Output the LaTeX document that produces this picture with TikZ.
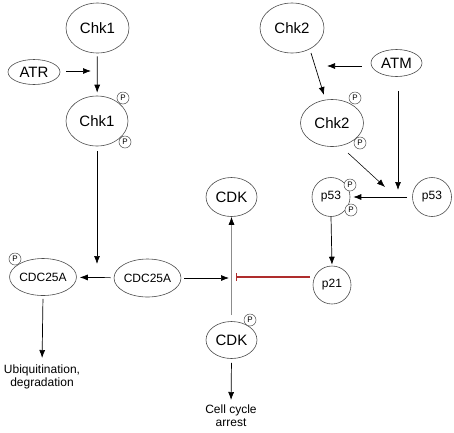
\documentclass[tikz,border=0pt]{standalone}
\usepackage{fontspec}
\setmainfont{Liberation Sans}
\usetikzlibrary{shapes.geometric,arrows.meta,calc}
\begin{document}
\begin{tikzpicture}[x=1pt,y=-1pt,
  prot/.style={draw=black!70, ellipse, inner sep=0pt, line width=0.6pt},
  bigprot/.style={prot, font=\fontsize{15}{15}\selectfont},
  smallprot/.style={prot, font=\fontsize{12}{12}\selectfont},
  phos/.style={draw=black!70, circle, fill=white, inner sep=0pt, minimum size=12pt, line width=0.5pt, font=\fontsize{8}{8}\selectfont},
  outcome/.style={align=center, inner sep=0pt, font=\fontsize{12}{13}\selectfont},
  act/.style={line width=0.7pt, -{Latex[length=8pt,width=6pt]}},
  grayact/.style={act, draw=black!45, -{Latex[length=8pt,width=6pt,color=black]}},
  inhib/.style={line width=1.3pt, draw={rgb,255:red,175;green,45;blue,45}, -{Bar[width=8pt]}}
]
\useasboundingbox (0,0) rectangle (454,432);
% nodes
\node[bigprot, minimum width=63pt, minimum height=50pt] (chk1) at (97.5,28) {Chk1};
\node[bigprot, minimum width=52pt, minimum height=25pt] (atr) at (34,72) {ATR};
\node[bigprot, minimum width=62pt, minimum height=50pt] (chk1p) at (97,121) {Chk1};
\node[phos] (chk1pa) at (123,98) {P};
\node[phos] (chk1pb) at (125,142) {P};
\node[bigprot, minimum width=64pt, minimum height=50pt] (chk2) at (292,28) {Chk2};
\node[bigprot, minimum width=51pt, minimum height=27pt] (atm) at (396.5,63) {ATM};
\node[bigprot, minimum width=63pt, minimum height=47pt] (chk2p) at (332,123) {Chk2};
\node[phos] (chk2pa) at (355,98) {P};
\node[phos] (chk2pb) at (360,143) {P};
\node[smallprot, minimum width=38pt, minimum height=39pt] (p53p) at (331,197) {p53};
\node[phos] (p53pa) at (350,185) {P};
\node[phos] (p53pb) at (351,210) {P};
\node[smallprot, minimum width=39pt, minimum height=39pt] (p53) at (432,197) {p53};
\node[smallprot, minimum width=38pt, minimum height=38pt] (p21) at (332,285) {p21};
\node[bigprot, minimum width=51pt, minimum height=39pt] (cdk) at (231.5,197) {CDK};
\node[bigprot, minimum width=51pt, minimum height=37pt] (cdkp) at (231.5,340) {CDK};
\node[phos] (cdkpa) at (250,320) {P};
\node[smallprot, minimum width=62pt, minimum height=37pt] (cdcp) at (43,277) {CDC25A};
\node[phos] (cdcpa) at (15,259) {P};
\node[smallprot, minimum width=63pt, minimum height=38pt] (cdc) at (147.5,278) {CDC25A};
\node[outcome, anchor=north] (ubi) at (42,365) {Ubiquitination,\\degradation};
\node[outcome, anchor=north] (arrest) at (231,405) {Cell cycle\\arrest};
% free ends
\coordinate (atrend) at (91,71);
\coordinate (chk1end) at (97,264);
\coordinate (cdcend) at (229,278);
\coordinate (bar) at (236,277);
\coordinate (atmend) at (398,190);
\coordinate (chk2end) at (385,187);
\coordinate (atmleft) at (327,66);
% connectors
\draw[act, shorten <=6pt] (atr.east |- atrend) -- (atrend);
\draw[act, shorten <=3pt, shorten >=3pt] (chk1) -- (chk1p);
\draw[act, shorten <=5pt] (chk1p.south) -- (chk1end);
\draw[act, shorten <=3pt, shorten >=3pt] (cdc) -- (cdcp);
\draw[act, shorten <=3pt] (cdc.east) -- (cdcend);
\draw[act, shorten <=3pt, shorten >=7pt] (cdcp.south) -- (ubi.north);
\draw[grayact, shorten <=6pt] (cdkp.north) -- (cdk.south);
\draw[act, shorten <=4pt, shorten >=5pt] (cdkp.south) -- (arrest.north);
\draw[inhib, shorten <=3pt] (p21.west |- bar) -- (bar);
\draw[act, shorten >=1pt] (p53p.south) -- (p21.north);
\draw[act, shorten <=5pt, shorten >=3pt] (p53.west) -- (p53p.east);
\draw[act, shorten <=14pt] (atm.south -| atmend) -- (atmend);
\draw[act, line width=0.55pt] ($(chk2p.center)+(16,30)$) -- (chk2end);
\draw[act, shorten <=9pt] (atm.west |- atmleft) -- (atmleft);
\draw[act] ($(chk2.center)+(19,25)$) -- ($(chk2p.center)+(-8,-28)$);
\end{tikzpicture}
\end{document}
